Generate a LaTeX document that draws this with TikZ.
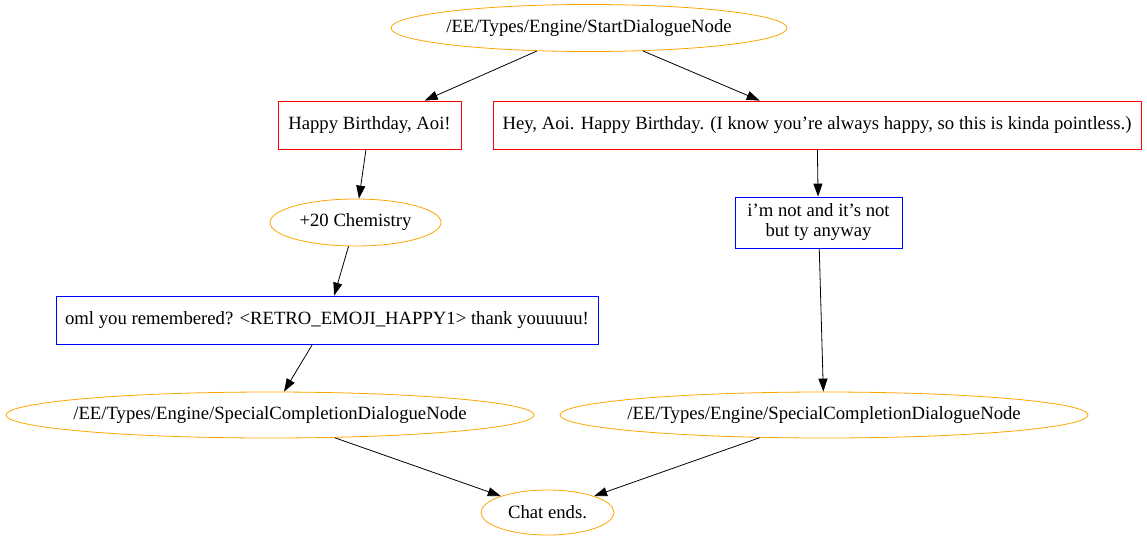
\documentclass[tikz,border=0pt]{standalone}
\usepackage{fontspec}
\setmainfont{Liberation Serif}
\usetikzlibrary{positioning,arrows.meta,shapes.geometric}
\definecolor{gvorange}{HTML}{FFA500}

\begin{document}
\begin{tikzpicture}[
  x=1pt, y=-1pt,
  font=\fontsize{18.7}{21}\selectfont,
  >={Triangle[length=13pt,width=9pt]},
  evnode/.style={ellipse, draw=gvorange, line width=0.8pt, inner ysep=0pt, inner xsep=-40pt},
  saynode/.style={rectangle, draw=red, line width=0.8pt, inner sep=0pt},
  replynode/.style={rectangle, draw=blue, line width=0.8pt, inner sep=0pt, align=center},
  flow/.style={->, draw=black, line width=0.8pt}
]
  \useasboundingbox (0,0) rectangle (1147,541);
  \node[evnode, minimum width=396pt, minimum height=47pt] (start) at (589,28) {/EE/Types/Engine/StartDialogueNode};
  \node[saynode, minimum width=183pt, minimum height=48pt] (bday) at (369.5,125) {Happy Birthday, Aoi!};
  \node[saynode, minimum width=648pt, minimum height=48pt] (hey) at (817,125) {Hey, Aoi. Happy Birthday. (I know you’re always happy, so this is kinda pointless.)};
  \node[evnode, minimum width=171pt, minimum height=47pt] (chem) at (355.5,222.5) {+20 Chemistry};
  \node[replynode, minimum width=167pt, minimum height=51pt] (notok) at (818.5,222.5) {i’m not and it’s not\\[-1pt]but ty anyway};
  \node[replynode, minimum width=542pt, minimum height=48pt] (oml) at (327,320) {oml you remembered? <RETRO\_EMOJI\_HAPPY1> thank youuuuu!};
  \node[evnode, minimum width=528pt, minimum height=46pt] (spec1) at (270,415) {/EE/Types/Engine/SpecialCompletionDialogueNode};
  \node[evnode, minimum width=528pt, minimum height=46pt] (spec2) at (824,415) {/EE/Types/Engine/SpecialCompletionDialogueNode};
  \node[evnode, minimum width=133pt, minimum height=45pt] (chatend) at (547.5,512.5) {Chat ends.};

  \draw[flow] (start) -- (bday);
  \draw[flow] (start) -- (hey);
  \draw[flow] (bday) -- (chem);
  \draw[flow] (chem) -- (oml);
  \draw[flow] (oml) -- (spec1);
  \draw[flow] (hey) -- (notok);
  \draw[flow] (notok) -- (spec2);
  \draw[flow] (spec1) -- (chatend);
  \draw[flow] (spec2) -- (chatend);
\end{tikzpicture}
\end{document}
